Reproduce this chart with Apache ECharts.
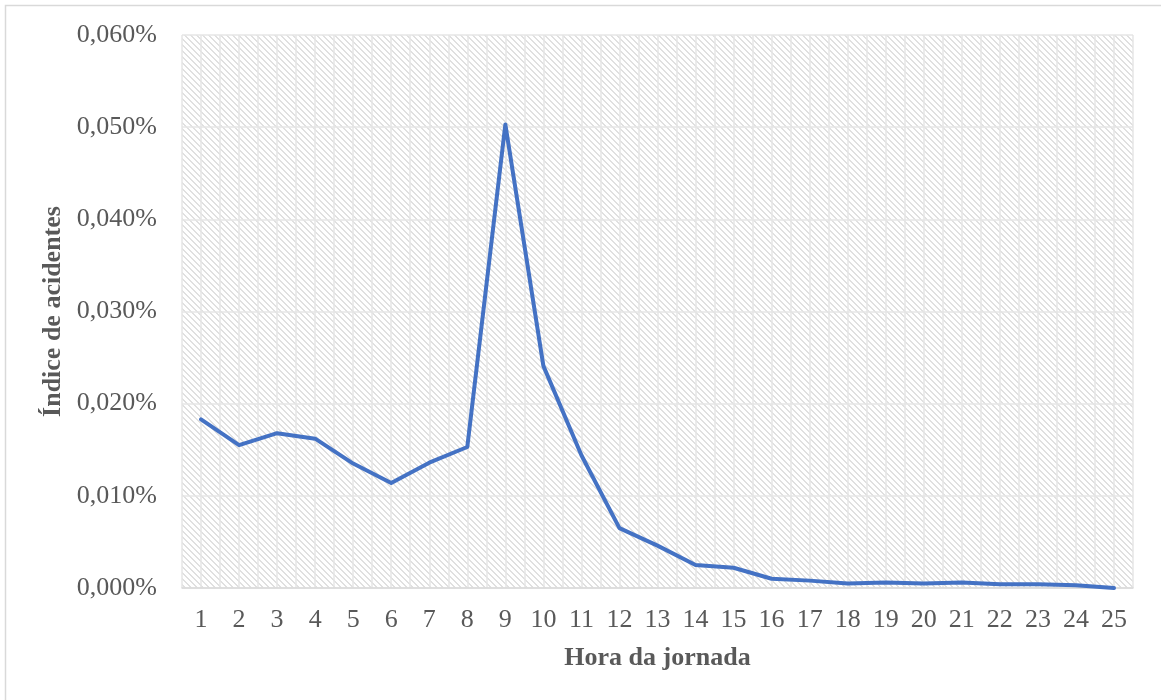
<!DOCTYPE html>
<html>
<head>
<meta charset="utf-8">
<script src="https://cdn.jsdelivr.net/npm/echarts@6/dist/echarts.min.js"></script>
<style>
  html, body { margin: 0; padding: 0; background: #fff; }
  #main { width: 1161px; height: 700px; }
</style>
</head>
<body>
<div id="main"></div>
<script>
// hours of the work day and accident index (in %)
var hours = [1, 2, 3, 4, 5, 6, 7, 8, 9, 10, 11, 12, 13, 14, 15, 16, 17, 18, 19, 20, 21, 22, 23, 24, 25];
var indice = [0.0183, 0.0155, 0.0168, 0.0162, 0.0135, 0.0114, 0.0136, 0.0153, 0.0503, 0.0241,
  0.0144, 0.0065, 0.0046, 0.0025, 0.0022, 0.0010, 0.0008, 0.0005, 0.0006, 0.0005,
  0.0006, 0.0004, 0.0004, 0.0003, 0.0000];
var yTicks = [0, 0.01, 0.02, 0.03, 0.04, 0.05, 0.06];

// hatch tile for the plot background
function makeHatch() {
  var c = document.createElement('canvas');
  c.width = 6; c.height = 6;
  var ctx = c.getContext('2d');
  ctx.fillStyle = '#ffffff';
  ctx.fillRect(0, 0, 6, 6);
  ctx.fillStyle = '#e0e0e0';
  for (var i = 0; i < 6; i++) {
    ctx.fillRect(i, i, 1, 1);
    ctx.fillRect(i, (i + 1) % 6, 1, 1);
  }
  return c;
}

var chart = echarts.init(document.getElementById('main'));
var font = '"Liberation Serif", "Times New Roman", serif';

var option = {
  animation: false,
  textStyle: { fontFamily: font },
  graphic: [{
    type: 'rect',
    shape: { x: 5.5, y: 5.5, width: 1180, height: 720 },
    style: { fill: 'none', stroke: '#d9d9d9', lineWidth: 1.5 },
    z: -1
  }],
  grid: {
    left: 182, right: 28, top: 35, bottom: 112,
    show: true,
    borderWidth: 0,
    backgroundColor: { image: makeHatch(), repeat: 'repeat' }
  },
  xAxis: {
    type: 'value',
    min: 0.5, max: 25.5, interval: 0.5,
    name: 'Hora da jornada',
    nameLocation: 'middle',
    nameGap: 57,
    nameTextStyle: { fontFamily: font, fontSize: 26, fontWeight: 'bold', color: '#595959' },
    axisLine: { show: true, lineStyle: { color: '#d9d9d9', width: 1.5 } },
    axisTick: { show: false },
    axisLabel: {
      fontFamily: font, fontSize: 26, color: '#595959', margin: 19,
      showMinLabel: true, showMaxLabel: true,
      formatter: function (v) { return Number.isInteger(v) ? String(v) : ''; }
    },
    splitLine: { show: true, lineStyle: { color: '#e6e6e6', width: 1.5 } }
  },
  yAxis: {
    type: 'value',
    min: yTicks[0], max: yTicks[yTicks.length - 1], interval: 0.01,
    name: 'Índice de acidentes',
    nameLocation: 'middle',
    nameGap: 112,
    nameTextStyle: { fontFamily: font, fontSize: 26, fontWeight: 'bold', color: '#595959' },
    axisLine: { show: false },
    axisTick: { show: false },
    axisLabel: {
      fontFamily: font, fontSize: 26, color: '#595959', margin: 25,
      formatter: function (v) { return v.toFixed(3).replace('.', ',') + '%'; }
    },
    splitLine: { show: true, lineStyle: { color: '#e6e6e6', width: 1.5 } }
  },
  series: [{
    type: 'line',
    data: hours.map(function (h, i) { return [h, indice[i]]; }),
    symbol: 'none',
    lineStyle: { color: '#4472C4', width: 4, cap: 'round', join: 'round' }
  }]
};
chart.setOption(option);
</script>
</body>
</html>
